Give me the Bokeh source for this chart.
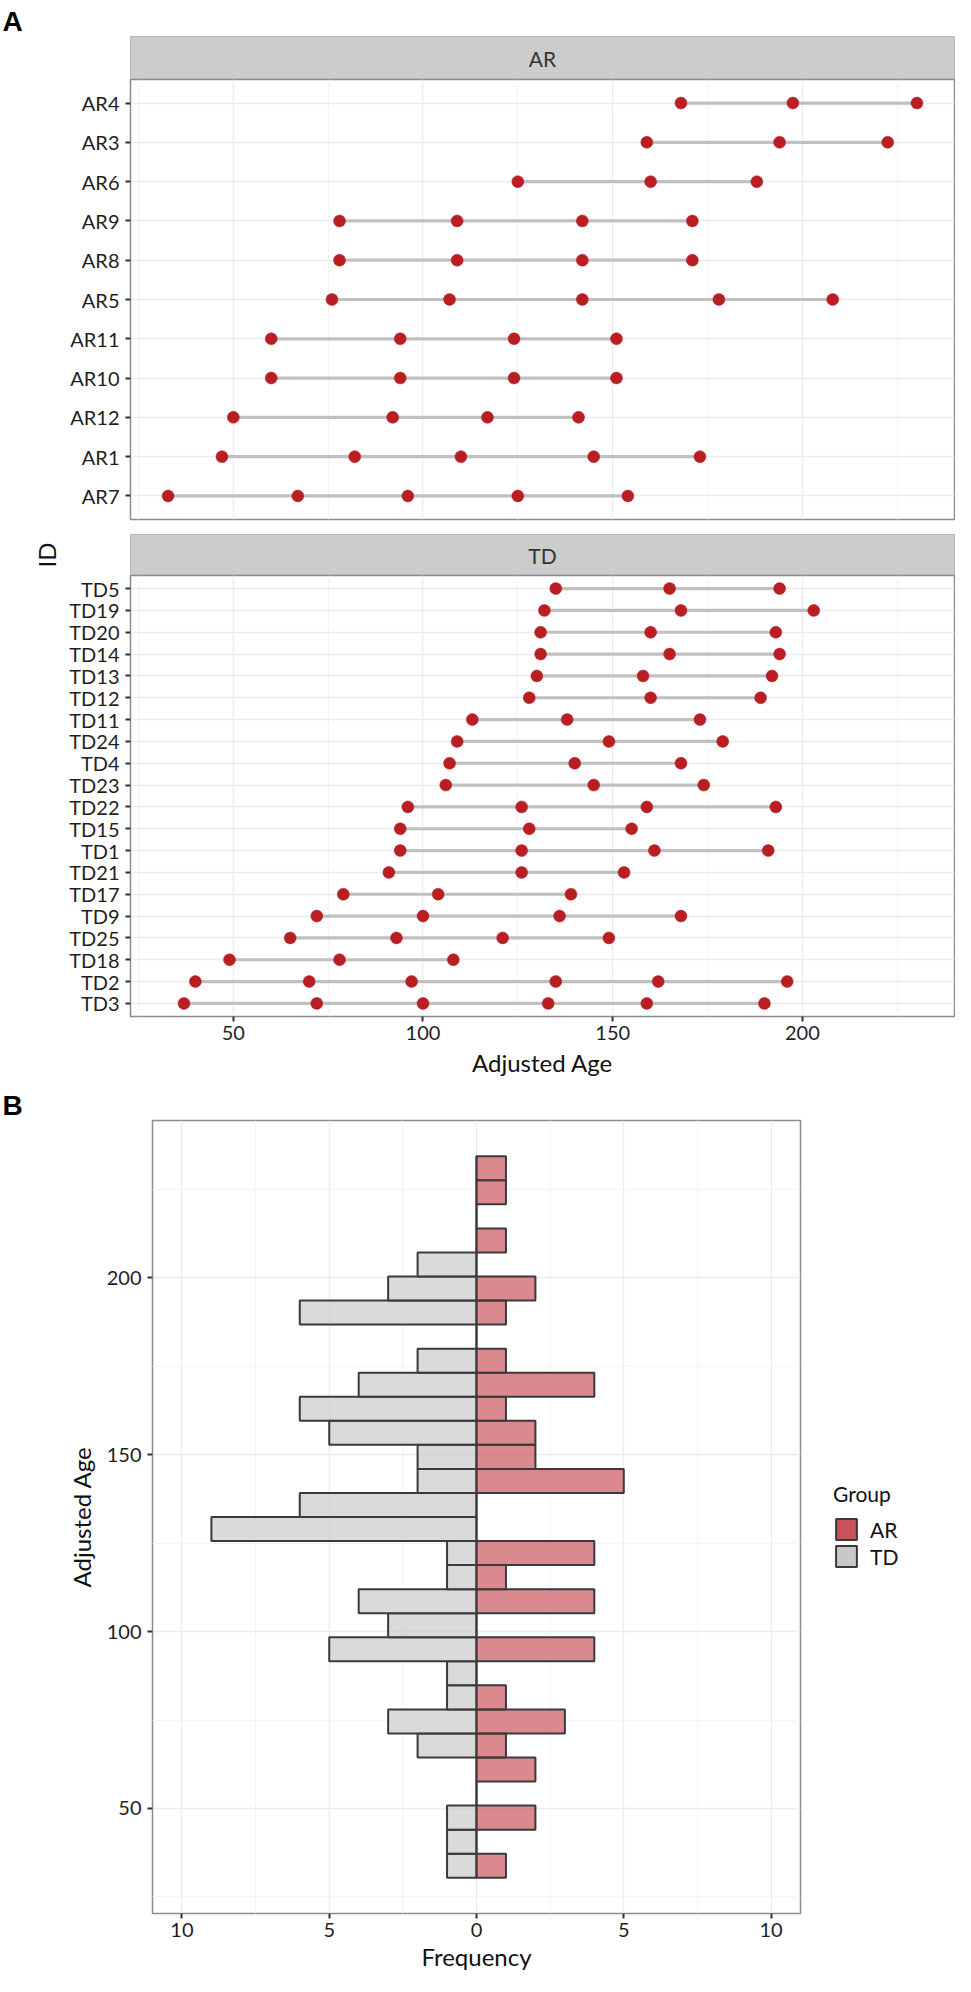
import pandas as pd
from bokeh.plotting import figure
from bokeh.models import (Range1d, FactorRange, FixedTicker, Legend, Label,
                          LegendItem, ColumnDataSource, Title, LinearAxis)
from bokeh.layouts import column, row
from bokeh.embed import file_html
from bokeh.resources import INLINE

# ---------------- data ----------------
ar_ids = ["AR7", "AR1", "AR12", "AR10", "AR11", "AR5", "AR8", "AR9", "AR6", "AR3", "AR4"]
ar_point_id = (["AR4"] * 3 + ["AR3"] * 3 + ["AR6"] * 3 + ["AR9"] * 4 + ["AR8"] * 4 +
               ["AR5"] * 5 + ["AR11"] * 4 + ["AR10"] * 4 + ["AR12"] * 4 + ["AR1"] * 5 + ["AR7"] * 5)
ar_point_age = [168, 197.5, 230.2,
                159, 194, 222.5,
                125, 160, 188,
                78, 109, 142, 171,
                78, 109, 142, 171,
                76, 107, 142, 178, 208,
                60, 94, 124, 151,
                60, 94, 124, 151,
                50, 92, 117, 141,
                47, 82, 110, 145, 173,
                32.8, 67, 96, 125, 154]

td_ids = ["TD3", "TD2", "TD18", "TD25", "TD9", "TD17", "TD21", "TD1", "TD15", "TD22",
          "TD23", "TD4", "TD24", "TD11", "TD12", "TD13", "TD14", "TD20", "TD19", "TD5"]
td_point_id = (["TD5"] * 3 + ["TD19"] * 3 + ["TD20"] * 3 + ["TD14"] * 3 + ["TD13"] * 3 +
               ["TD12"] * 3 + ["TD11"] * 3 + ["TD24"] * 3 + ["TD4"] * 3 + ["TD23"] * 3 +
               ["TD22"] * 4 + ["TD15"] * 3 + ["TD1"] * 4 + ["TD21"] * 3 + ["TD17"] * 3 +
               ["TD9"] * 4 + ["TD25"] * 4 + ["TD18"] * 3 + ["TD2"] * 6 + ["TD3"] * 6)
td_point_age = [135, 165, 194,
                132, 168, 203,
                131, 160, 193,
                131, 165, 194,
                130, 158, 192,
                128, 160, 189,
                113, 138, 173,
                109, 149, 179,
                107, 140, 168,
                106, 145, 174,
                96, 126, 159, 193,
                94, 128, 155,
                94, 126, 161, 191,
                91, 126, 153,
                79, 104, 139,
                72, 100, 136, 168,
                65, 93, 121, 149,
                49, 78, 108,
                40, 70, 97, 135, 162, 196,
                37, 72, 100, 133, 159, 190]

age_ticks = [50, 100, 150, 200]
age_minor = [25, 75, 125, 175, 225]

# histogram (panel B): bin edges of Adjusted Age and counts per bin (bottom to top)
hist_edges = [30.4, 37.2, 44.0, 50.8, 57.6, 64.4, 71.2, 78.0, 84.8, 91.6, 98.4,
              105.2, 112.0, 118.8, 125.6, 132.4, 139.2, 146.0, 152.8, 159.6, 166.4,
              173.2, 180.0, 186.8, 193.6, 200.4, 207.2, 214.0, 220.8, 227.6, 234.4]
hist_ar = [1, 0, 2, 0, 2, 1, 3, 1, 0, 4, 0, 4, 1, 4, 0, 0, 5, 2, 2, 1, 4, 1, 0, 1, 2, 0, 1, 0, 1, 1]
hist_td = [1, 1, 1, 0, 0, 2, 3, 1, 1, 5, 3, 4, 1, 1, 9, 6, 2, 2, 5, 6, 4, 2, 0, 6, 3, 2, 0, 0, 0, 0]
freq_ticks = [-10, -5, 0, 5, 10]
freq_labels = ["10", "5", "0", "5", "10"]
freq_minor = [-7.5, -2.5, 2.5, 7.5]
groups = ["AR", "TD"]

# ---------------- style ----------------
FONT = "Lato"
TICK_COL = "#1F1F1F"
GRID = "#EBEBEB"
GRID_MINOR = "#F4F4F4"
BORDER = "#8C8C8C"
PT_COL = "#B81E22"
SEG_COL = "#C0C0C0"
AR_FILL = "#C8525A"
TD_FILL = "#C8C8C8"
OUT = "#3A3A3A"
W = 955
COMMON = dict(toolbar_location=None, output_backend="svg", frame_align=False)


def style_axis(ax):
    ax.axis_line_color = None
    ax.major_tick_line_color = "#333333"
    ax.major_tick_line_width = 2
    ax.major_tick_out = 5
    ax.major_tick_in = 0
    ax.minor_tick_line_color = None
    ax.major_label_text_font = FONT
    ax.major_label_text_font_size = "20px"
    ax.major_label_text_color = TICK_COL
    ax.axis_label_text_font = FONT
    ax.axis_label_text_font_size = "24px"
    ax.axis_label_text_font_style = "normal"
    ax.axis_label_text_color = "#111111"


def panel_title(text, offset):
    return Title(text=text, align="left", offset=offset, standoff=0,
                 text_font="Liberation Sans", text_font_size="28px",
                 text_font_style="bold", text_color="black")


def strip(label, height, top, ttl=None):
    s = figure(width=W, height=height, x_range=Range1d(0, 1), y_range=Range1d(0, 1),
               title=ttl, x_axis_location=None, y_axis_location=None,
               min_border_left=130, min_border_right=1, min_border_top=top,
               min_border_bottom=0, **COMMON)
    s.grid.visible = False
    s.background_fill_color = "#CCCCCC"
    s.border_fill_color = "white"
    s.outline_line_color = "#B5B5B5"
    s.outline_line_width = 1
    s.add_layout(Label(x=0.5, y=0.5, text=label, text_align="center", text_baseline="middle",
                       text_font=FONT, text_font_size="21px", text_color="#333333"))
    return s


def dumbbell(ids, pid, page, height, bottom, show_x):
    df = pd.DataFrame({"id": pid, "age": page})
    rng = df.groupby("id")["age"].agg(["min", "max"]).reset_index()
    p = figure(width=W, height=height, x_range=Range1d(22.9, 240.1),
               y_range=FactorRange(factors=ids, range_padding=0.1, range_padding_units="absolute"),
               title=None, min_border_left=130, min_border_right=1, min_border_top=0,
               min_border_bottom=bottom, **COMMON)
    p.segment(x0="min", x1="max", y0="id", y1="id", source=ColumnDataSource(rng),
              line_color=SEG_COL, line_width=3.2)
    p.scatter(x="age", y="id", source=ColumnDataSource(df), size=12,
              fill_color=PT_COL, line_color=PT_COL, line_width=0.5)
    p.background_fill_color = "white"
    p.outline_line_color = BORDER
    p.outline_line_width = 1.5
    tk = FixedTicker(ticks=age_ticks, minor_ticks=age_minor)
    p.xaxis.ticker = tk
    p.xgrid.ticker = tk
    p.xgrid.grid_line_color = GRID
    p.xgrid.grid_line_width = 1.3
    p.xgrid.minor_grid_line_color = GRID_MINOR
    p.xgrid.minor_grid_line_width = 1
    p.ygrid.grid_line_color = GRID
    p.ygrid.grid_line_width = 1.3
    for ax in p.xaxis + p.yaxis:
        style_axis(ax)
    p.yaxis.major_label_standoff = 6
    if show_x:
        p.xaxis.axis_label = "Adjusted Age"
        p.xaxis.major_label_standoff = 4
        p.xaxis.axis_label_standoff = 5
    else:
        p.xaxis.visible = False
    return p


# ---------------- panel A ----------------
s_ar = strip("AR", 79, 36, panel_title("A", -128))
p_ar = dumbbell(ar_ids, ar_point_id, ar_point_age, 455, 15, False)
s_td = strip("TD", 41, 0)
# shared "ID" axis title of panel A, carried by an empty left axis on the TD strip
id_axis = LinearAxis(ticker=FixedTicker(ticks=[]), axis_label="ID", axis_line_color=None,
                     major_tick_line_color=None, minor_tick_line_color=None,
                     axis_label_standoff=70, axis_label_text_font=FONT,
                     axis_label_text_font_size="24px", axis_label_text_font_style="normal",
                     axis_label_text_color="#111111")
s_td.add_layout(id_axis, "left")
p_td = dumbbell(td_ids, td_point_id, td_point_age, 512, 71, True)

# ---------------- panel B ----------------
pb = figure(width=802, height=889, x_range=Range1d(-11, 11), y_range=Range1d(20.3, 244.5),
            title=panel_title("B", -150),
            min_border_left=152, min_border_right=2, min_border_top=33, min_border_bottom=63,
            **COMMON)
pb.background_fill_color = "white"
pb.outline_line_color = BORDER
pb.outline_line_width = 1.5

hist_src = ColumnDataSource(dict(
    bottom=hist_edges[:-1], top=hist_edges[1:],
    ar_right=hist_ar, td_left=[-c for c in hist_td],
    zero=[0] * len(hist_ar)))
pb.quad(left="td_left", right="zero", bottom="bottom", top="top", source=hist_src,
        fill_color=TD_FILL, fill_alpha=0.68, line_color=OUT, line_width=2)
pb.quad(left="zero", right="ar_right", bottom="bottom", top="top", source=hist_src,
        fill_color=AR_FILL, fill_alpha=0.68, line_color=OUT, line_width=2)

xt = FixedTicker(ticks=freq_ticks, minor_ticks=freq_minor)
yt = FixedTicker(ticks=age_ticks, minor_ticks=age_minor)
pb.xaxis.ticker = xt
pb.xgrid.ticker = xt
pb.yaxis.ticker = yt
pb.ygrid.ticker = yt
pb.xaxis.major_label_overrides = {t: l for t, l in zip(freq_ticks, freq_labels)}
for g in pb.xgrid + pb.ygrid:
    g.grid_line_color = GRID
    g.grid_line_width = 1.3
    g.minor_grid_line_color = GRID_MINOR
    g.minor_grid_line_width = 1
for ax in pb.xaxis + pb.yaxis:
    style_axis(ax)
pb.xaxis.axis_label = "Frequency"
pb.xaxis.major_label_standoff = 4
pb.xaxis.axis_label_standoff = 2
pb.yaxis.axis_label = "Adjusted Age"
pb.yaxis.major_label_standoff = 6
pb.yaxis.axis_label_standoff = 8

# legend column to the right of panel B (its own small canvas)
lf = figure(width=153, height=889, x_range=Range1d(0, 1), y_range=Range1d(0, 1),
            title=None, x_axis_location=None, y_axis_location=None,
            min_border_left=0, min_border_right=0, min_border_top=0, min_border_bottom=0,
            **COMMON)
lf.grid.visible = False
lf.outline_line_color = None
nan = float("nan")
leg_ar = lf.quad(left=[nan], right=[nan], bottom=[nan], top=[nan],
                 fill_color=AR_FILL, line_color=OUT, line_width=2)
leg_td = lf.quad(left=[nan], right=[nan], bottom=[nan], top=[nan],
                 fill_color=TD_FILL, line_color=OUT, line_width=2)
legend = Legend(items=[LegendItem(label=groups[0], renderers=[leg_ar]),
                       LegendItem(label=groups[1], renderers=[leg_td])],
                location=(31, 407), title="Group", margin=0, padding=10,
                glyph_width=26, glyph_height=26, spacing=1, label_standoff=11,
                title_standoff=10, border_line_color=None, background_fill_alpha=0)
legend.title_text_font = FONT
legend.title_text_font_size = "21px"
legend.title_text_font_style = "normal"
legend.title_text_color = "#111111"
legend.label_text_font = FONT
legend.label_text_font_size = "21px"
legend.label_text_color = "#111111"
lf.add_layout(legend, "center")

layout = column(s_ar, p_ar, s_td, p_td, row(pb, lf, spacing=0), spacing=0)
open("out.html", "w").write(file_html(layout, INLINE))
